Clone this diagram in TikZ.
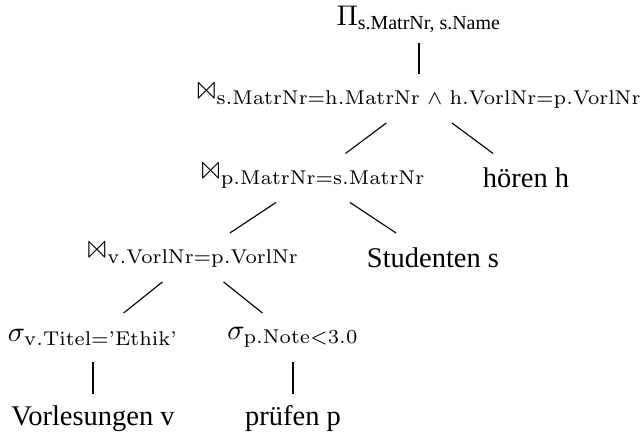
\documentclass[tikz,border=0pt]{standalone}
\usepackage[no-math]{fontspec}
\setmainfont{Liberation Serif}
\usepackage{amsmath, amssymb}
\usepackage{latexsym}
\usetikzlibrary{positioning}

\begin{document}
\begin{tikzpicture}
		\tikzstyle{every node}=[minimum height=0.59cm, inner sep=2pt]
		\tikzstyle{treeedge}=[draw=black, line width=0.4pt]
		\useasboundingbox (0,0) rectangle (7.91,5.38);

		% projection
		\node (proj) at (5.17,5.146) {$\Pi_{\text{s.MatrNr, s.Name}}$};

		% joins
		\node (join1) at (5.17,4.165) {$\Join_{\mathrm{s.MatrNr=h.MatrNr}\ \wedge\ \mathrm{h.VorlNr=p.VorlNr}}$};
		\node (hoeren) at (6.491,3.184) {hören h};
		\node (join2) at (3.862,3.184) {$\Join_{\mathrm{p.MatrNr=s.MatrNr}}$};
		\node (studenten) at (5.343,2.203) {Studenten s};
		\node (join3) at (2.382,2.203) {$\Join_{\mathrm{v.VorlNr=p.VorlNr}}$};

		% selections
		\node (sel1) at (1.148,1.215) {$\sigma_{\mathrm{v.Titel=\mathchar"7027 Ethik\mathchar"7027}}$};
		\node (sel2) at (3.616,1.215) {$\sigma_{\mathrm{p.Note<3.0}}$};
		\node[below=0.395 of sel1] (vorl){Vorlesungen v};
		\node[below=0.395 of sel2] (pruefen){prüfen p};

		\path (proj) edge[treeedge] (join1);
		\path (join1) edge[treeedge] (join2);
		\path (join1) edge[treeedge] (hoeren);
		\path (join2) edge[treeedge] (join3);
		\path (join2) edge[treeedge] (studenten);
		\path (join3) edge[treeedge] (sel1);
		\path (join3) edge[treeedge] (sel2);
		\path (sel1) edge[treeedge] (vorl);
		\path (sel2) edge[treeedge] (pruefen);
		%\path (join1) edge[treeedge] (proj);

	\end{tikzpicture}
\end{document}
